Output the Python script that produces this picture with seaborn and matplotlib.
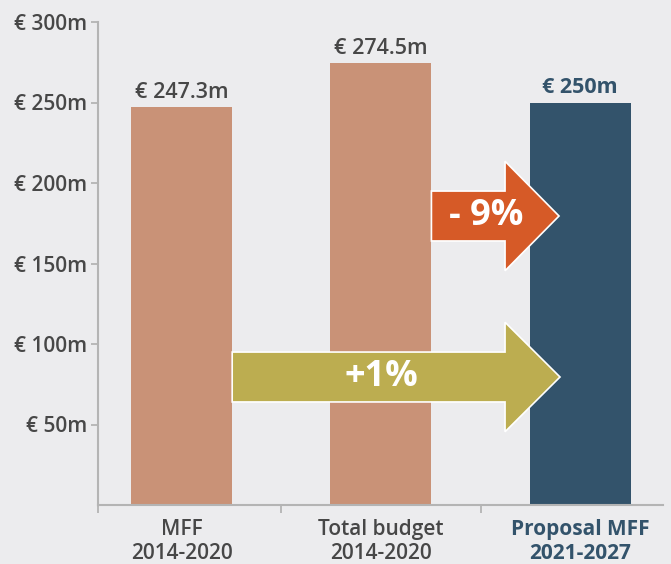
import matplotlib
matplotlib.use("Agg")
import matplotlib.pyplot as plt
import seaborn as sns
import pandas as pd
from matplotlib.patches import FancyArrow

categories = ["MFF\n2014-2020", "Total budget\n2014-2020", "Proposal MFF\n2021-2027"]
values = [247.3, 274.5, 250.0]
value_labels = ["€ 247.3m", "€ 274.5m", "€ 250m"]
yticks = [50, 100, 150, 200, 250, 300]
ytick_labels = ["€ 50m", "€ 100m", "€ 150m", "€ 200m", "€ 250m", "€ 300m"]
arrow_texts = ["- 9%", "+1%"]

BG = "#ececee"
TAN = "#c99277"
BLUE = "#33536b"
GREY = "#474747"

sns.set_theme(style="white")
plt.rcParams["font.family"] = ["Open Sans", "DejaVu Sans"]

fig = plt.figure(figsize=(6.71, 5.64), dpi=100, facecolor=BG)
ax = fig.add_axes([98/671, 59/564, 1 - 98/671, (505-22)/564])
ax.set_facecolor(BG)

df = pd.DataFrame({"cat": categories, "val": values})
sns.barplot(data=df, x="cat", y="val", hue="cat", palette=[TAN, TAN, BLUE],
            width=0.507, legend=False, ax=ax, saturation=1, linewidth=0)

ax.set_xlim(-0.42, 2.456)
ax.set_ylim(0, 300)

for s in ["top", "right"]:
    ax.spines[s].set_visible(False)
for s in ["left", "bottom"]:
    ax.spines[s].set_color("#b4b4b4")
    ax.spines[s].set_linewidth(1.5)
ax.spines["bottom"].set_bounds(-0.42, 2.416)

ax.set_yticks(yticks)
ax.set_yticklabels(ytick_labels)
ax.tick_params(axis="y", length=5, width=1.3, color="#b4b4b4", pad=3,
               labelsize=15, labelcolor=GREY, left=True)
for t in ax.get_yticklabels():
    t.set_fontweight("semibold")

ax.set_xticks([0, 1, 2])
ax.set_xticklabels([])
ax.tick_params(axis="x", which="major", length=0)
ax.set_xticks([-0.42, 0.5, 1.5], minor=True)
ax.tick_params(axis="x", which="minor", length=6, width=1.3, color="#b4b4b4", bottom=True)
ax.set_xlabel("")
ax.set_ylabel("")

for i, c in enumerate(categories):
    col = BLUE if i == 2 else GREY
    wt = "bold" if i == 2 else "semibold"
    ax.text(i, -8.5, c, ha="center", va="top", fontsize=15, color=col,
            fontweight=wt, linespacing=1.2, clip_on=False)

for i, (v, lab) in enumerate(zip(values, value_labels)):
    col = BLUE if i == 2 else GREY
    wt = "bold" if i == 2 else "semibold"
    ax.text(i, v + 2.5, lab, ha="center", va="bottom", fontsize=15.5, color=col,
            fontweight=wt)

# arrows
bw = 0.507
orange = FancyArrow(1 + bw/2, 179.5, 1.894 - (1 + bw/2), 0, width=31,
                    head_width=68, head_length=1.894 - 1.623,
                    length_includes_head=True, facecolor="#d65a27",
                    edgecolor="white", linewidth=1.2, zorder=5)
ax.add_patch(orange)
green = FancyArrow(bw/2, 79.5, 1.899 - bw/2, 0, width=31,
                   head_width=68, head_length=1.899 - 1.623,
                   length_includes_head=True, facecolor="#bcad50",
                   edgecolor="white", linewidth=1.2, zorder=5)
ax.add_patch(green)
ax.text(1.528, 179.5, arrow_texts[0], ha="center", va="center", fontsize=26,
        color="white", fontweight="bold", zorder=6)
ax.text(1.0, 79.5, arrow_texts[1], ha="center", va="center", fontsize=26,
        color="white", fontweight="bold", zorder=6)

fig.savefig("out.png", dpi=100, facecolor=BG)
